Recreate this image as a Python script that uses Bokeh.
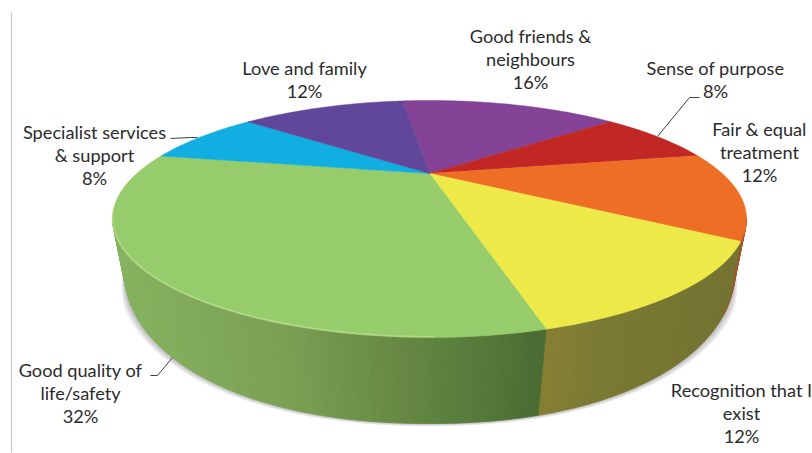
from bokeh.core.properties import value
from bokeh.embed import file_html
from bokeh.models import ColumnDataSource, Range1d
from bokeh.plotting import figure
from bokeh.resources import INLINE
import numpy as np

# Pie slices, clockwise from the top of the disc
categories = [
    "Good friends &\nneighbours",
    "Sense of purpose",
    "Fair & equal\ntreatment",
    "Recognition that I\nexist",
    "Good quality of\nlife/safety",
    "Specialist services\n& support",
    "Love and family",
]
shares = [16, 8, 12, 12, 32, 8, 12]
top_colors = ["#844396", "#c12825", "#ee6e26", "#ece948", "#97cc6c", "#11aee2", "#61479a"]

# Wall shading per slice, as (screen x, colour) stops
wall_stops = {
    2: ([700, 746], ["#a5552c", "#a5552c"]),
    3: ([546, 600, 735], ["#877f33", "#7b7a33", "#737230"]),
    4: ([112, 280, 400, 480, 546], ["#86b35f", "#7ba054", "#668843", "#557a3a", "#4a6b33"]),
}

# Placement of each label block: centre x and first line's centre y
label_anchor = [(530, 35), (715, 67), (759, 128), (741, 389), (80, 369), (94, 131), (304, 67)]
LINE_STEP = 23.4

# Perspective disc: screen position of far edge, hub and near edge
CX, HUB_Y, FAR_Y, NEAR_Y = 429.0, 173.0, 100.0, 337.0
RIM_HALF_W = 317.0
START_DEG = -7.3
C = (2 * HUB_Y - NEAR_Y - FAR_Y) / (NEAR_Y - FAR_Y)
A = NEAR_Y * (1 + C) - HUB_Y
D = RIM_HALF_W * np.sqrt(1 - C ** 2)

# Base outline of the extruded wall
BASE_HALF_W, BASE_MID_Y, BASE_DEPTH, BASE_POWER = 306.0, 265.0, 158.0, 2.15


def rim(theta_deg):
    t = np.radians(np.asarray(theta_deg, dtype=float))
    u, v = np.sin(t), -np.cos(t)
    w = 1 + C * v
    return CX + D * u / w, (A * v + HUB_Y) / w


def base(x):
    dx = np.asarray(x) - CX
    f = np.abs(dx) / RIM_HALF_W
    # The wall leans inward a little more towards the middle of the near side
    dx = dx * (0.91 + 0.0565 * f)
    frac = np.clip(np.abs(dx) / BASE_HALF_W, 0, 1)
    return CX + dx, BASE_MID_Y + BASE_DEPTH * (1 - frac ** BASE_POWER) ** (1 / BASE_POWER)


def mix(x, stops):
    xs, cols = stops
    rgb = [[int(c[i:i + 2], 16) for i in (1, 3, 5)] for c in cols]
    return "#%02x%02x%02x" % tuple(int(round(np.interp(x, xs, [c[k] for c in rgb]))) for k in range(3))


edges = START_DEG + np.concatenate([[0], np.cumsum(shares)]) * 360.0 / sum(shares)

p = figure(width=812, height=453, output_backend="svg", toolbar_location=None,
           x_range=Range1d(0, 812), y_range=Range1d(453, 0),
           x_axis_location=None, y_axis_location=None, min_border=0,
           background_fill_color="white", border_fill_color="white", outline_line_color=None)
p.grid.visible = False

# Thin rule down the left side of the frame
p.line([11, 11], [12, 452], line_color="#c6c6c6", line_width=1.2)

# Soft cast shadow hugging the lower part of the wall
grid = np.linspace(112, 248, 137)
gx, _ = rim(grid)
bx, by = base(gx)
for k in (7, 5.5, 4, 2.5, 1.2):
    s = np.clip((by - BASE_MID_Y) / 40, 0, 1)
    sx = CX + (bx - CX) * (1 + k / BASE_HALF_W * s)
    sy = by + k * 0.4 * s
    p.patch(sx[::-1], sy[::-1], fill_color="#555555", fill_alpha=0.09, line_color=None)

# Wall strips for the slices on the near side of the rim
xs_wall, ys_wall, cols_wall = [], [], []
for i, stops in wall_stops.items():
    a0, a1 = max(edges[i], 112.0), min(edges[i + 1], 248.0)
    n = max(int((a1 - a0) / 1.0), 1)
    th = np.linspace(a0, a1, n + 1)
    tx, ty = rim(th)
    wx, wy = base(tx)
    for j in range(n):
        xs_wall.append([tx[j], tx[j + 1], wx[j + 1], wx[j]])
        ys_wall.append([ty[j], ty[j + 1], wy[j + 1], wy[j]])
        cols_wall.append(mix((tx[j] + tx[j + 1]) / 2, stops))
p.patches(xs="xs", ys="ys", fill_color="c", line_color="c", line_width=0.8,
          source=ColumnDataSource(dict(xs=xs_wall, ys=ys_wall, c=cols_wall)))

# Hairline of the orange wall showing past the olive one on the right
right = (bx > CX) & (by < 318)
p.line(bx[right], by[right], line_color="#a5552c", line_width=1)

# Top face, one wedge per slice
for i, col in enumerate(top_colors):
    th = np.linspace(edges[i], edges[i + 1], 80)
    x, y = rim(th)
    p.patch(np.r_[CX, x], np.r_[HUB_Y, y], fill_color=col, line_color=col, line_width=0.5)

# Bevel highlight along the near rim of the green slice
th = np.linspace(edges[4], 252, 100)
x, y = rim(th)
mask = x < 440
p.line(x[mask], y[mask] - 1, line_color="#c3df9c", line_width=1.5, line_alpha=0.65)

# Leader lines
p.line([170, 190, 197], [138, 137, 137], line_color="#404040", line_width=1)
p.line([699, 689, 657], [97, 97, 136], line_color="#404040", line_width=1)
p.line([150, 157, 172], [375, 375, 357], line_color="#404040", line_width=1)

# Labels: category lines followed by the share
tx, ty, tt = [], [], []
for cat, share, (ax, ay) in zip(categories, shares, label_anchor):
    for n, line in enumerate(cat.split("\n") + [f"{share}%"]):
        tx.append(ax)
        ty.append(ay + n * LINE_STEP)
        tt.append(line)
p.text(x="x", y="y", text="t", source=ColumnDataSource(dict(x=tx, y=ty, t=tt)),
       text_font=value("Lato"), text_font_size="18.2px", text_color="#2b2b2b",
       text_align="center", text_baseline="middle")

open("out.html", "w").write(file_html(p, INLINE))
